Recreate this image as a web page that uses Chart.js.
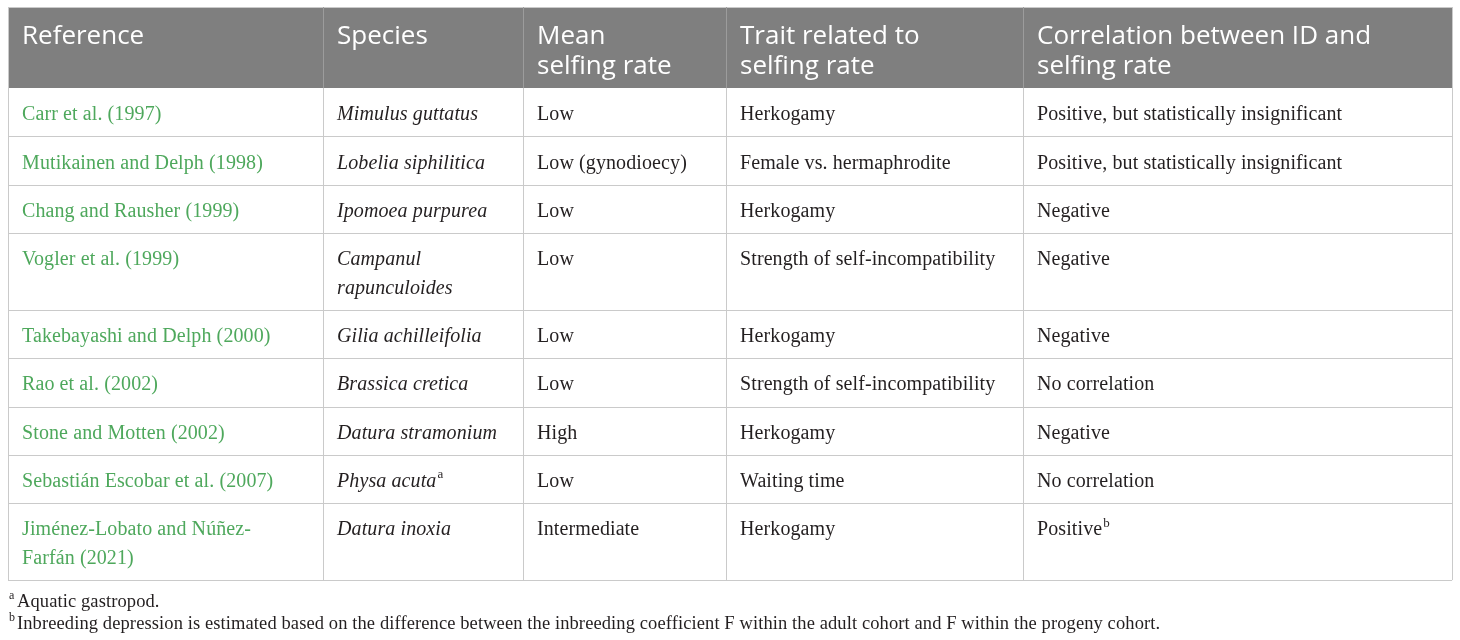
<!DOCTYPE html>
<html>
<head>
<meta charset="utf-8">
<script src="https://cdn.jsdelivr.net/npm/chart.js@4"></script>
<style>
  html, body { margin: 0; padding: 0; background: #ffffff; }
  #wrap { width: 1460px; height: 640px; }
</style>
</head>
<body>
<div id="wrap"><canvas id="tableChart" width="1460" height="640"></canvas></div>
<script>
// table content
const headers = ['Reference', 'Species', 'Mean\nselfing rate', 'Trait related to\nselfing rate', 'Correlation between ID and\nselfing rate'];
const references = [
  'Carr et al. (1997)',
  'Mutikainen and Delph (1998)',
  'Chang and Rausher (1999)',
  'Vogler et al. (1999)',
  'Takebayashi and Delph (2000)',
  'Rao et al. (2002)',
  'Stone and Motten (2002)',
  'Sebastián Escobar et al. (2007)',
  'Jiménez-Lobato and Núñez-\nFarfán (2021)'
];
const species = [
  'Mimulus guttatus',
  'Lobelia siphilitica',
  'Ipomoea purpurea',
  'Campanul\nrapunculoides',
  'Gilia achilleifolia',
  'Brassica cretica',
  'Datura stramonium',
  'Physa acuta',
  'Datura inoxia'
];
const speciesNotes = ['', '', '', '', '', '', '', 'a', ''];
const selfingRates = ['Low', 'Low (gynodioecy)', 'Low', 'Low', 'Low', 'Low', 'High', 'Low', 'Intermediate'];
const traits = [
  'Herkogamy',
  'Female vs. hermaphrodite',
  'Herkogamy',
  'Strength of self-incompatibility',
  'Herkogamy',
  'Strength of self-incompatibility',
  'Herkogamy',
  'Waiting time',
  'Herkogamy'
];
const correlations = [
  'Positive, but statistically insignificant',
  'Positive, but statistically insignificant',
  'Negative',
  'Negative',
  'Negative',
  'No correlation',
  'Negative',
  'No correlation',
  'Positive'
];
const correlationNotes = ['', '', '', '', '', '', '', '', 'b'];
const footnoteMarks = ['a', 'b'];
const footnotes = [
  'Aquatic gastropod.',
  'Inbreeding depression is estimated based on the difference between the inbreeding coefficient F within the adult cohort and F within the progeny cohort.'
];

// layout (table units = canvas px)
const colWidths = [315, 200, 203, 297, 429];
const tableLeft = 8, tableTop = 7;
const headerH = 81, lineH = 48.3, extraLineH = 28.7;
const padX = 14;

const GREEN = '#4ea85c';
const TEXT = '#231f20';
const BORDER = '#cacaca';
const HEAD_BG = '#7f7f7f';
const SERIF = '"Liberation Serif", "DejaVu Serif", serif';
const SANS = '"Open Sans", "Noto Sans", sans-serif';

const bodyRows = references.map((r, i) => ({
  cells: [r, species[i], selfingRates[i], traits[i], correlations[i]],
  notes: ['', speciesNotes[i], '', '', correlationNotes[i]]
}));

function lines(s) { return s.split('\n'); }

const tablePlugin = {
  id: 'tablePlugin',
  afterDraw(chart) {
    const ctx = chart.ctx;
    const xs = chart.scales.x, ys = chart.scales.y;
    const px = v => xs.getPixelForValue(v);
    const py = v => ys.getPixelForValue(v);

    // column edges
    const colEdges = [tableLeft];
    colWidths.forEach(w => colEdges.push(colEdges[colEdges.length - 1] + w));
    // row edges from line counts
    const rowEdges = [tableTop, tableTop + headerH];
    bodyRows.forEach(row => {
      const n = Math.max(...row.cells.map(c => lines(c).length));
      rowEdges.push(rowEdges[rowEdges.length - 1] + lineH + (n - 1) * extraLineH);
    });
    const left = colEdges[0], right = colEdges[colEdges.length - 1];
    const bottom = rowEdges[rowEdges.length - 1];

    ctx.save();
    // header background
    ctx.fillStyle = HEAD_BG;
    ctx.fillRect(px(left), py(rowEdges[0]), px(right) - px(left), py(rowEdges[1]) - py(rowEdges[0]));

    // borders
    ctx.lineWidth = 1;
    ctx.strokeStyle = BORDER;
    rowEdges.forEach((y, i) => {
      if (i === 1) return;
      ctx.beginPath();
      ctx.moveTo(px(left), Math.round(py(y)) + 0.5);
      ctx.lineTo(px(right), Math.round(py(y)) + 0.5);
      ctx.stroke();
    });
    colEdges.forEach((x, i) => {
      const xx = Math.round(px(x)) + 0.5;
      const inner = i > 0 && i < colEdges.length - 1;
      ctx.strokeStyle = inner ? '#9c9c9c' : BORDER;
      ctx.beginPath();
      ctx.moveTo(xx, py(rowEdges[0]));
      ctx.lineTo(xx, py(rowEdges[1]));
      ctx.stroke();
      ctx.strokeStyle = BORDER;
      ctx.beginPath();
      ctx.moveTo(xx, py(rowEdges[1]));
      ctx.lineTo(xx, py(bottom));
      ctx.stroke();
    });

    // header text
    ctx.textBaseline = 'middle';
    ctx.textAlign = 'left';
    ctx.fillStyle = '#ffffff';
    ctx.font = '26px ' + SANS;
    headers.forEach((h, c) => {
      lines(h).forEach((ln, k) => {
        ctx.fillText(ln, px(colEdges[c] + padX), py(rowEdges[0] + 29.5 + k * 30));
      });
    });

    // body text
    ctx.letterSpacing = '0.1px';
    bodyRows.forEach((row, r) => {
      const top = rowEdges[r + 1];
      row.cells.forEach((cell, c) => {
        ctx.font = (c === 1 ? 'italic ' : '') + '20px ' + SERIF;
        ctx.fillStyle = c === 0 ? GREEN : TEXT;
        const ls = lines(cell);
        ls.forEach((ln, k) => {
          const x = px(colEdges[c] + padX);
          const y = py(top + 27 + k * extraLineH);
          ctx.fillText(ln, x, y);
          if (k === ls.length - 1 && row.notes[c]) {
            const w = ctx.measureText(ln).width;
            ctx.font = '13px ' + SERIF;
            ctx.fillText(row.notes[c], x + w + 1, y - 7);
          }
        });
      });
    });

    // footnotes
    ctx.fillStyle = TEXT;
    footnotes.forEach((f, i) => {
      const y = py(bottom + 22 + i * 22);
      ctx.font = '12px ' + SERIF;
      ctx.fillText(footnoteMarks[i], px(tableLeft + 1), y - 6);
      ctx.font = '18.5px ' + SERIF;
      ctx.fillText(f, px(tableLeft + 9), y);
    });
    ctx.restore();
  }
};

new Chart(document.getElementById('tableChart').getContext('2d'), {
  type: 'scatter',
  data: { datasets: [{ data: [] }] },
  options: {
    responsive: false,
    animation: false,
    layout: { padding: 0 },
    plugins: { legend: { display: false }, tooltip: { enabled: false } },
    scales: {
      x: { type: 'linear', min: 0, max: 1460, display: false },
      y: { type: 'linear', min: 0, max: 640, reverse: true, display: false }
    }
  },
  plugins: [tablePlugin]
});
</script>
</body>
</html>
